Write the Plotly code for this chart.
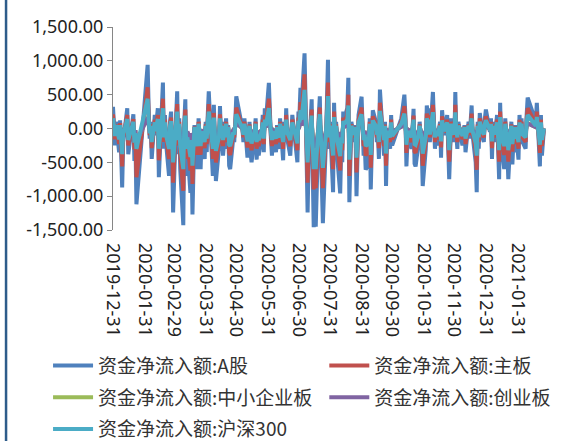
import pandas as pd
import plotly.graph_objects as go

# ---- trading calendar (weekdays minus exchange holidays) ----
start_date = "2019-12-31"
end_date = "2021-02-26"
holidays = ["2020-01-01", "2020-01-24", "2020-01-27", "2020-01-28", "2020-01-29",
            "2020-01-30", "2020-01-31", "2020-04-06", "2020-05-01", "2020-05-04",
            "2020-05-05", "2020-06-25", "2020-06-26", "2020-10-01", "2020-10-02",
            "2020-10-05", "2020-10-06", "2020-10-07", "2020-10-08", "2021-01-01",
            "2021-02-11", "2021-02-12", "2021-02-15", "2021-02-16", "2021-02-17"]

# ---- series values (one line per month) ----
a_share = [
    320,
    -250, 100, -350, 120, -300, -870, -200, 150, 300, -380, -250, -100, 210, -480, -150, -1120,
    940, 300, -150, 100, -450, 200, -100, 150, 300, -720, 250, 680, -300, 200, -200, -700, 100, 250, -400, -1240,
    200, 550, -380, 150, -600, -1430, 100, 430, -700, -300, -950, -400, -1270, -300, 50, -600, 150, -150, -600, -100, -450, 100,
    -350, 200, 550, -700, 350, -200, -775, -300, 330, -100, 100, -400, 150, -300, 50, -550, -600, -150, -200, 100, 475,
    0, -200, 150, -430, -200, 100, -350, -500, -100, 150, -460, -200, -400, -100, 200, -350, 300, 100,
    675, 100, -150, -400, -100, -350, 50, -250, -300, 150, -470, 100, -200, 300, -150, -400, -100, 200, -500, 250,
    200, 600, 300, 1110, 400, -300, -1240, -500, 430, -600, -1460, -900, -1450, 200, 475, -300, -700, -1400, -200, 300, 1015, -300, 100,
    -940, 380, -200, 100, -400, -960, -300, -500, 250, 150, 300, 750, -1090, -500, 100, -200, 50, -1000, -300, 200, 470,
    100, -400, -200, -610, -500, 150, -900, -300, 270, 100, -200, -100, -450, 575, -200, -400, 100, -850, -100, -300, 200, -250,
    150, 500, 200, -560, -200, -100, -300, 100, 290, -520, -560, -200, 100, -150, -300, -850,
    -300, 340, 200, 300, -200, 540, 100, -300, -100, -250, 100, -430, 270, 50, -100, 200, -400, -750, -300, 150, -200,
    540, -100, -300, 100, -200, -250, -100, 50, -350, 100, -150, 250, 340, -100, -500, -940, 100, -300, 230, -150, -200, 150, 280,
    -50, 150, -450, 100, -200, 200, -300, -750, 380, -200, -600, 150, -100, -300, -750, 100, -530, -200, -350, 50,
    -460, 200, -100, 150, -200, -300, 200, 455, 100, 380, -560, 200, -400, -250, 0,
]

main_board = [
    210,
    -160, 60, -230, 80, -200, -560, -130, 100, 200, -250, -160, -60, 140, -310, -100, -720,
    610, 190, -100, 60, -290, 130, -60, 100, 200, -470, 160, 440, -200, 130, -130, -450, 60, 160, -260, -800,
    130, 360, -250, 100, -390, -920, 60, 280, -450, -200, -620, -260, -820, -200, 30, -390, 100, -100, -390, -60, -290, 60,
    -230, 130, 360, -450, 230, -130, -500, -200, 210, -60, 60, -260, 100, -200, 30, -360, -390, -100, -130, 60, 310,
    0, -130, 100, -280, -130, 60, -230, -320, -60, 100, -300, -130, -260, -60, 130, -230, 200, 60,
    440, 60, -100, -260, -60, -230, 30, -160, -200, 100, -300, 60, -130, 200, -100, -260, -60, 130, -320, 160,
    130, 390, 200, 800, 260, -200, -800, -320, 280, -390, -900, -580, -880, 130, 310, -200, -450, -880, -130, 200, 680, -200, 60,
    -600, 250, -130, 60, -260, -620, -200, -320, 160, 100, 200, 500, -700, -320, 60, -130, 30, -650, -200, 130, 310,
    60, -260, -130, -400, -320, 100, -580, -200, 180, 60, -130, -60, -290, 380, -130, -260, 60, -550, -60, -200, 130, -160,
    100, 330, 130, -360, -130, -60, -200, 60, 190, -340, -360, -130, 60, -100, -200, -550,
    -200, 220, 130, 200, -130, 350, 60, -200, -60, -160, 60, -280, 180, 30, -60, 130, -260, -490, -200, 100, -130,
    350, -60, -200, 60, -130, -160, -60, 30, -230, 60, -100, 160, 220, -60, -320, -610, 60, -200, 150, -100, -130, 100, 180,
    -30, 100, -290, 60, -130, 130, -200, -490, 250, -130, -390, 100, -60, -200, -490, 60, -340, -130, -230, 30,
    -300, 130, -60, 100, -130, -200, 130, 300, 60, 250, -360, 130, -260, -160, 0,
]

sme_board = [
    55,
    -45, 20, -60, 20, -55, -160, -35, 25, 50, -70, -45, -20, 35, -85, -25, -200,
    170, 55, -25, 20, -80, 35, -20, 25, 55, -130, 45, 120, -50, 35, -35, -125, 20, 45, -70, -220,
    35, 100, -70, 25, -110, -260, 20, 75, -125, -55, -170, -70, -230, -50, 10, -105, 25, -25, -105, -20, -80, 20,
    -60, 35, 100, -125, 60, -35, -140, -50, 60, -20, 20, -70, 25, -50, 10, -100, -105, -25, -35, 20, 85,
    0, -35, 25, -75, -35, 20, -60, -90, -20, 25, -80, -35, -70, -20, 35, -60, 50, 20,
    120, 20, -25, -70, -20, -60, 10, -45, -50, 25, -85, 20, -35, 50, -25, -70, -20, 35, -90, 45,
    35, 110, 50, 160, 70, -50, -220, -90, 75, -105, -280, -160, -280, 35, 85, -50, -125, -260, -35, 50, 170, -50, 20,
    -170, 70, -35, 20, -70, -170, -50, -90, 45, 25, 50, 130, -200, -90, 20, -35, 10, -180, -50, 35, 80,
    20, -70, -35, -110, -90, 25, -160, -50, 45, 20, -35, -20, -80, 100, -35, -70, 20, -150, -20, -50, 35, -45,
    25, 90, 35, -100, -35, -20, -50, 20, 50, -90, -100, -35, 20, -25, -50, -150,
    -50, 60, 35, 50, -35, 95, 20, -50, -20, -45, 20, -75, 45, 10, -20, 35, -70, -130, -50, 25, -35,
    95, -20, -50, 20, -35, -45, -20, 10, -60, 20, -25, 45, 60, -20, -90, -165, 20, -50, 40, -25, -35, 25, 50,
    -10, 25, -80, 20, -35, 35, -50, -130, 65, -35, -105, 25, -20, -50, -130, 20, -95, -35, -60, 10,
    -80, 35, -20, 25, -35, -50, 35, 80, 20, 65, -100, 35, -70, -45, 0,
]

gem_board = [
    55,
    -45, 20, -60, 20, -45, -150, -35, 25, 50, -60, -45, -20, 35, -85, -25, -200,
    160, 55, -25, 20, -80, 35, -20, 25, 45, -120, 45, 120, -50, 35, -35, -125, 20, 45, -70, -220,
    35, 90, -60, 25, -100, -250, 20, 75, -125, -45, -160, -70, -220, -50, 10, -105, 25, -25, -105, -20, -80, 20,
    -60, 35, 90, -125, 60, -35, -135, -50, 60, -20, 20, -70, 25, -50, 10, -90, -105, -25, -35, 20, 80,
    0, -35, 25, -75, -35, 20, -60, -90, -20, 25, -80, -35, -70, -20, 35, -60, 50, 20,
    115, 20, -25, -70, -20, -60, 10, -45, -50, 25, -85, 20, -35, 50, -25, -70, -20, 35, -90, 45,
    35, 100, 50, 150, 70, -50, -220, -90, 75, -105, -280, -160, -290, 35, 80, -50, -125, -260, -35, 50, 165, -50, 20,
    -170, 60, -35, 20, -70, -170, -50, -90, 45, 25, 50, 120, -190, -90, 20, -35, 10, -170, -50, 35, 80,
    20, -70, -35, -100, -90, 25, -160, -50, 45, 20, -35, -20, -80, 95, -35, -70, 20, -150, -20, -50, 35, -45,
    25, 80, 35, -100, -35, -20, -50, 20, 50, -90, -100, -35, 20, -25, -50, -150,
    -50, 60, 35, 50, -35, 95, 20, -50, -20, -45, 20, -75, 45, 10, -20, 35, -70, -130, -50, 25, -35,
    95, -20, -50, 20, -35, -45, -20, 10, -60, 20, -25, 45, 60, -20, -90, -165, 20, -50, 40, -25, -35, 25, 50,
    -10, 25, -80, 20, -35, 35, -50, -130, 65, -35, -105, 25, -20, -50, -130, 20, -95, -35, -60, 10,
    -80, 35, -20, 25, -35, -50, 35, 75, 20, 65, -100, 35, -70, -45, 0,
]

hs300 = [
    150,
    -110, 50, -160, 50, -130, -380, -90, 70, 140, -170, -110, -40, 100, -210, -70, -300,
    440, 140, -70, 40, -200, 90, -40, 70, 140, -300, 110, 300, -130, 90, -90, -300, 40, 110, -170, -500,
    90, 250, -170, 70, -260, -600, 40, 190, -300, -130, -420, -170, -550, -130, 20, -260, 70, -60, -260, -40, -200, 40,
    -150, 90, 250, -300, 160, -90, -330, -130, 150, -40, 40, -170, 70, -130, 20, -240, -260, -60, -90, 40, 210,
    0, -90, 70, -190, -90, 40, -150, -220, -40, 70, -200, -90, -170, -40, 90, -150, 130, 40,
    300, 40, -60, -170, -40, -150, 20, -110, -130, 70, -200, 40, -90, 130, -60, -170, -40, 90, -220, 110,
    90, 270, 130, 570, 180, -130, -500, -220, 190, -260, -600, -400, -600, 90, 210, -130, -300, -580, -90, 130, 480, -130, 40,
    -400, 170, -90, 40, -170, -410, -130, -220, 110, 70, 130, 340, -460, -220, 40, -90, 20, -430, -130, 90, 210,
    40, -170, -90, -260, -220, 70, -390, -130, 120, 40, -90, -40, -200, 260, -90, -170, 40, -370, -40, -130, 90, -110,
    70, 220, 90, -240, -90, -40, -130, 40, 130, -230, -240, -90, 40, -60, -130, -370,
    -130, 150, 90, 130, -90, 240, 40, -130, -40, -110, 40, -190, 120, 20, -40, 90, -170, -320, -130, 70, -90,
    240, -40, -130, 40, -90, -110, -40, 20, -150, 40, -60, 110, 150, -40, -220, -400, 40, -130, 100, -60, -90, 70, 120,
    -20, 70, -190, 40, -90, 90, -130, -320, 170, -90, -260, 70, -40, -130, -320, 40, -230, -90, -150, 20,
    -200, 90, -40, 70, -90, -130, 90, 200, 40, 170, -240, 90, -170, -110, 0,
]

series_names = ["资金净流入额:A股", "资金净流入额:主板", "资金净流入额:中小企业板",
                "资金净流入额:创业板", "资金净流入额:沪深300"]
series_colors = ["#4F81BD", "#C0504D", "#9BBB59", "#8064A2", "#4BACC6"]
series_legend = ["legend", "legend2", "legend", "legend2", "legend"]

x_tick_labels = ["2019-12-31", "2020-01-31", "2020-02-29", "2020-03-31", "2020-04-30",
                 "2020-05-31", "2020-06-30", "2020-07-31", "2020-08-31", "2020-09-30",
                 "2020-10-31", "2020-11-30", "2020-12-31", "2021-01-31"]
y_tick_values = [1500, 1000, 500, 0, -500, -1000, -1500]

dates = pd.bdate_range(start_date, end_date)
dates = dates[~dates.isin(pd.to_datetime(holidays))]

all_series = [a_share, main_board, sme_board, gem_board, hs300]
for s in all_series:
    if len(s) != len(dates):
        raise ValueError(f"length mismatch {len(s)} vs {len(dates)}")

fig = go.Figure()
for i, (name, vals, col, lg) in enumerate(zip(series_names, all_series, series_colors, series_legend)):
    fig.add_trace(go.Scatter(x=dates, y=vals, mode="lines", name=name,
                             legend=lg, legendgroup=f"g{i}",
                             line=dict(color=col, width=4)))

legend_font = dict(family="Noto Sans CJK SC", size=19, color="#333333")
fig.update_layout(
    width=572, height=441,
    margin=dict(l=113, r=26, t=27, b=211, autoexpand=False),
    paper_bgcolor="white", plot_bgcolor="white",
    font=dict(family="Noto Sans, Noto Sans CJK SC", color="#222222"),
    showlegend=True,
    legend=dict(x=-0.150, xanchor="left", y=-0.575, yanchor="top",
                font=legend_font, itemwidth=40, traceorder="grouped",
                tracegroupgap=4, bgcolor="rgba(0,0,0,0)"),
    legend2=dict(x=0.488, xanchor="left", y=-0.575, yanchor="top",
                 font=legend_font, itemwidth=40, traceorder="grouped",
                 tracegroupgap=4, bgcolor="rgba(0,0,0,0)"),
)
fig.update_xaxes(
    type="date", range=["2019-12-31", "2021-02-28"],
    tickvals=x_tick_labels, ticktext=x_tick_labels, tickangle=90,
    tickfont=dict(family="Noto Sans", size=18, color="#222222"),
    ticklabelstandoff=12,
    showgrid=False, showline=False, zeroline=False, ticks="",
)
fig.update_yaxes(
    range=[-1500, 1500], tickvals=y_tick_values,
    ticktext=[f"{v:,.2f}" for v in y_tick_values],
    tickfont=dict(family="Noto Sans", size=18, color="#222222"),
    showgrid=False, zeroline=False, showline=True, linecolor="#868686", linewidth=1,
    ticks="outside", ticklen=5, tickcolor="#868686",
)
fig.add_shape(type="line", xref="paper", yref="paper", x0=-0.247, x1=-0.247,
              y0=-1.2, y1=1.2, line=dict(color="#2E5C8A", width=2.5))

fig.write_html("out.html", config={"displayModeBar": False},
               post_script="document.body.style.margin='0';document.body.style.overflow='hidden';")
